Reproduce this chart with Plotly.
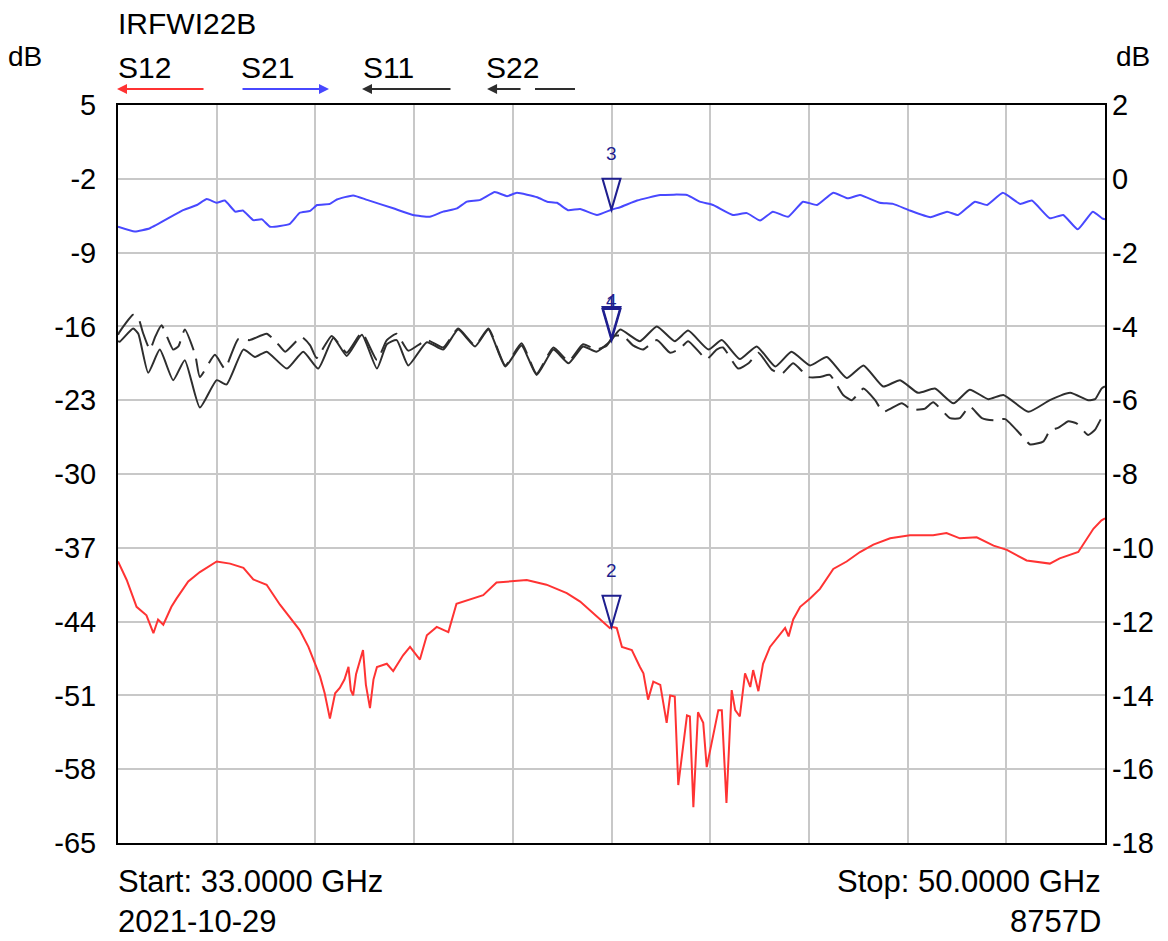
import numpy as np
import plotly.graph_objects as go

# ---------------- data ----------------
F_START, F_STOP = 33.0, 50.0
MARKER_FREQ = 41.5

LEFT_TICKS = [5, -2, -9, -16, -23, -30, -37, -44, -51, -58, -65]
RIGHT_TICKS = [2, 0, -2, -4, -6, -8, -10, -12, -14, -16, -18]

# S21 (right axis, dB)
s21_f = [33.00, 33.29, 33.55, 34.12, 34.36, 34.53, 34.70, 34.84, 35.02, 35.15, 35.33, 35.48,
         35.62, 35.96, 36.13, 36.31, 36.43, 36.65, 36.77, 37.05, 37.29, 37.74, 38.08, 38.37,
         38.60, 38.84, 39.01, 39.24, 39.49, 39.70, 39.87, 40.22, 40.39, 40.56, 40.75, 40.96,
         41.25, 41.51, 41.65, 41.94, 42.34, 42.80, 43.02, 43.25, 43.59, 43.83, 44.06, 44.28,
         44.54, 44.80, 45.04, 45.32, 45.57, 45.78, 46.12, 46.35, 46.64, 46.99, 47.28, 47.47,
         47.76, 47.97, 48.24, 48.54, 48.74, 49.05, 49.28, 49.53, 49.79, 49.95, 50.00]
s21_v = [-1.30, -1.43, -1.34, -0.85, -0.71, -0.55, -0.65, -0.59, -0.89, -0.86, -1.12, -1.10,
         -1.30, -1.22, -0.92, -0.87, -0.71, -0.68, -0.56, -0.45, -0.57, -0.80, -0.98, -1.03,
         -0.89, -0.80, -0.62, -0.57, -0.36, -0.47, -0.38, -0.50, -0.62, -0.65, -0.85, -0.82,
         -0.98, -0.83, -0.77, -0.59, -0.44, -0.44, -0.62, -0.71, -0.98, -0.93, -1.13, -0.89,
         -1.03, -0.62, -0.71, -0.38, -0.53, -0.44, -0.65, -0.68, -0.86, -1.04, -0.89, -0.98,
         -0.62, -0.71, -0.38, -0.68, -0.59, -1.07, -0.98, -1.37, -0.89, -1.07, -1.10]

# S11 (left axis, dB) - solid
s11_f = [33.00, 33.03, 33.26, 33.35, 33.52, 33.72, 33.95, 34.15, 34.41, 34.70, 34.87, 35.16,
         35.36, 35.56, 35.91, 36.19, 36.45, 36.71, 36.94, 37.20, 37.46, 37.63, 37.80, 38.00,
         38.32, 38.60, 38.86, 39.15, 39.38, 39.67, 39.95, 40.21, 40.50, 40.76, 41.01, 41.24,
         41.47, 41.50, 41.65, 41.99, 42.28, 42.59, 42.82, 43.17, 43.40, 43.71, 44.00, 44.32,
         44.60, 44.92, 45.21, 45.55, 45.84, 46.18, 46.47, 46.78, 47.07, 47.39, 47.67, 47.99,
         48.25, 48.68, 49.05, 49.40, 49.71, 49.83, 49.94, 50.00]
s11_v = [-17.4, -17.45, -16.2, -16.7, -20.4, -18.2, -21.1, -19.2, -23.7, -21.1, -21.5, -18.2,
         -18.9, -18.4, -20.0, -18.4, -20.0, -17.1, -18.8, -16.8, -20.0, -17.7, -17.3, -19.7,
         -17.5, -18.2, -16.3, -17.9, -16.3, -19.8, -17.8, -20.6, -18.2, -19.5, -17.9, -18.4,
         -17.45, -17.3, -16.3, -17.4, -16.0, -17.4, -16.4, -18.2, -17.3, -19.1, -17.9, -19.8,
         -18.4, -19.7, -18.9, -20.9, -19.7, -21.7, -21.1, -22.3, -21.9, -23.3, -22.0, -22.9,
         -22.5, -24.1, -23.0, -22.3, -23.0, -22.9, -21.9, -21.7]

# S22 (left axis, dB) - dashed
s22_f = [33.00, 33.03, 33.26, 33.35, 33.43, 33.55, 33.64, 33.75, 33.95, 34.04, 34.15, 34.33,
         34.41, 34.67, 34.84, 35.07, 35.27, 35.56, 35.73, 35.88, 36.16, 36.31, 36.42, 36.68,
         36.94, 37.20, 37.46, 37.63, 37.80, 38.00, 38.32, 38.60, 38.86, 39.15, 39.38, 39.67,
         39.95, 40.21, 40.50, 40.76, 41.01, 41.24, 41.42, 41.50, 41.53, 41.70, 41.87, 42.04,
         42.28, 42.51, 42.68, 42.82, 43.14, 43.31, 43.42, 43.68, 43.86, 44.03, 44.26, 44.43,
         44.63, 44.89, 45.09, 45.26, 45.49, 45.64, 45.84, 46.04, 46.18, 46.50, 46.67, 46.90,
         47.04, 47.33, 47.50, 47.67, 47.88, 48.08, 48.28, 48.57, 48.71, 48.94, 49.05, 49.20,
         49.37, 49.51, 49.71, 49.83, 49.94, 50.00]
s22_v = [-16.8, -16.5, -14.9, -15.2, -16.6, -18.2, -17.0, -15.9, -18.2, -17.9, -16.3, -18.7,
         -20.8, -18.7, -20.0, -17.2, -17.3, -16.7, -17.5, -18.4, -17.0, -17.8, -19.0, -16.9,
         -18.5, -16.6, -19.2, -17.3, -16.7, -18.3, -17.3, -18.0, -16.2, -17.8, -16.2, -19.7,
         -17.6, -20.5, -18.0, -19.3, -17.7, -18.2, -17.8, -17.1, -16.9, -16.9, -17.8, -18.2,
         -17.3, -18.5, -18.1, -17.4, -19.1, -18.2, -18.0, -20.0, -19.5, -18.5, -20.1, -20.5,
         -19.5, -20.8, -20.8, -20.6, -22.5, -23.0, -21.9, -23.0, -24.1, -23.3, -23.9, -23.8,
         -23.2, -24.7, -24.7, -23.6, -24.7, -24.9, -24.8, -26.4, -27.2, -26.9, -25.9, -25.6,
         -25.0, -25.2, -26.3, -25.8, -24.7, -24.5]

# S12 (left axis, dB)
s12_f = [33.00, 33.15, 33.32, 33.49, 33.61, 33.69, 33.78, 33.92, 34.01, 34.21, 34.41, 34.70,
         34.93, 35.16, 35.33, 35.56, 35.79, 35.99, 36.13, 36.28, 36.39, 36.48, 36.56, 36.65,
         36.74, 36.82, 36.90, 36.97, 37.01, 37.05, 37.10, 37.14, 37.22, 37.27, 37.34, 37.40,
         37.46, 37.63, 37.74, 37.91, 38.03, 38.20, 38.32, 38.49, 38.69, 38.83, 39.01, 39.29,
         39.52, 39.81, 40.04, 40.38, 40.73, 40.96, 41.30, 41.47, 41.50, 41.59, 41.68, 41.85,
         41.99, 42.05, 42.13, 42.22, 42.34, 42.45, 42.51, 42.59, 42.65, 42.71, 42.80, 42.85,
         42.91, 42.99, 43.08, 43.14, 43.20, 43.28, 43.34, 43.40, 43.48, 43.57, 43.63, 43.71,
         43.80, 43.89, 43.94, 44.03, 44.11, 44.23, 44.35, 44.49, 44.55, 44.63, 44.75, 44.92,
         45.09, 45.32, 45.55, 45.78, 46.01, 46.30, 46.64, 47.04, 47.27, 47.50, 47.79, 48.08,
         48.31, 48.65, 49.05, 49.22, 49.54, 49.80, 49.94, 50.00]
s12_v = [-38.3, -40.05, -42.6, -43.4, -45.1, -43.8, -44.3, -42.6, -41.8, -40.2, -39.3, -38.3,
         -38.5, -38.9, -40.0, -40.5, -42.4, -43.8, -44.8, -46.4, -48.0, -49.2, -50.8, -53.2,
         -50.8, -50.3, -49.5, -48.3, -50.5, -51.0, -49.0, -48.3, -46.7, -50.0, -52.2, -49.5,
         -48.3, -48.0, -48.7, -47.2, -46.4, -47.6, -45.3, -44.5, -45.0, -42.3, -42.0, -41.5,
         -40.3, -40.2, -40.05, -40.5, -41.3, -42.1, -43.8, -44.6, -44.5, -44.6, -46.4, -46.7,
         -48.3, -48.9, -51.4, -49.7, -50.0, -53.6, -51.0, -51.1, -59.5, -56.8, -52.9, -53.0,
         -61.6, -52.6, -53.6, -57.8, -56.2, -54.3, -52.4, -52.4, -61.2, -50.5, -52.4, -53.0,
         -48.9, -50.2, -48.6, -50.6, -48.0, -46.4, -45.6, -44.6, -45.4, -43.8, -42.6, -41.8,
         -40.9, -39.0, -38.3, -37.4, -36.7, -36.1, -35.8, -35.8, -35.6, -36.1, -36.0, -36.8,
         -37.2, -38.2, -38.5, -38.0, -37.4, -35.2, -34.4, -34.2]

# ---------------- style ----------------
RED = "#ff3333"
BLUE = "#4848ff"
BLACK = "#2e2e2e"
NAVY = "#1f1f8f"
GRID = "#c8c8c8"
FONT = "Liberation Sans, Arial, sans-serif"
NARROW = "Liberation Sans Narrow, Liberation Sans, Arial, sans-serif"
TEXT_SIZE = 30
TICK_SIZE = 29

fig = go.Figure()
fig.add_trace(go.Scatter(x=s12_f, y=s12_v, mode="lines", line=dict(color=RED, width=2), yaxis="y"))
fig.add_trace(go.Scatter(x=s11_f, y=s11_v, mode="lines",
                         line=dict(color=BLACK, width=2, shape="spline", smoothing=0.5), yaxis="y"))
fig.add_trace(go.Scatter(x=s22_f, y=s22_v, mode="lines",
                         line=dict(color=BLACK, width=2, dash="26px,9px", shape="spline", smoothing=0.5),
                         yaxis="y"))
fig.add_trace(go.Scatter(x=s21_f, y=s21_v, mode="lines",
                         line=dict(color=BLUE, width=2, shape="spline", smoothing=0.4), yaxis="y2"))

# ---------------- markers ----------------
markers = [
    ("3", np.interp(MARKER_FREQ, s21_f, s21_v), "y2", 56),
    ("2", np.interp(MARKER_FREQ, s12_f, s12_v), "y", 56),
    ("1", np.interp(MARKER_FREQ, s11_f, s11_v), "y", 38),
    ("4", np.interp(MARKER_FREQ, s22_f, s22_v), "y", 38),
]
shapes = []
annotations = []
for label, val, yref, shift in markers:
    shapes.append(dict(type="path", xref="x", yref=yref, xsizemode="pixel", ysizemode="pixel",
                       xanchor=MARKER_FREQ, yanchor=val,
                       path="M 0,0 L -9,31 L 9,31 Z",
                       line=dict(color=NAVY, width=2), fillcolor="rgba(0,0,0,0)"))
    annotations.append(dict(x=MARKER_FREQ, y=val, xref="x", yref=yref, text=label, showarrow=False,
                            yshift=shift, font=dict(family=NARROW, size=19, color=NAVY)))

# ---------------- header / legend ----------------
def ptext(x, y, text, xanchor="left", size=TEXT_SIZE):
    annotations.append(dict(x=x, y=y, xref="paper", yref="paper", text=text, showarrow=False,
                            xanchor=xanchor, yanchor="middle", xshift=-2,
                            font=dict(family=FONT, size=size, color="black")))

ptext(0.0, 1.110, "IRFWI22B", size=30)
ptext(-0.111, 1.066, "dB", size=28)
ptext(1.050, 1.066, "dB", xanchor="right", size=28)
ptext(0.0, 1.051, "S12")
ptext(0.1246, 1.051, "S21")
ptext(0.2482, 1.051, "S11")
ptext(0.3729, 1.051, "S22")
ptext(0.0, -0.0515, "Start: 33.0000 GHz", size=31)
ptext(1.0, -0.0515, "Stop: 50.0000 GHz", xanchor="right", size=31)
ptext(0.0, -0.1057, "2021-10-29", size=31)
ptext(1.0, -0.1057, "8757D", xanchor="right", size=31)

def arrow(xtip, ax, color):
    annotations.append(dict(x=xtip, y=1.0217, xref="paper", yref="paper", ax=ax, ay=0,
                            axref="pixel", ayref="pixel", text="", showarrow=True,
                            arrowhead=2, arrowsize=1.0, arrowwidth=2, arrowcolor=color))

arrow(-0.001, 88, RED)
arrow(0.2138, -88, BLUE)
arrow(0.2472, 90, BLACK)
arrow(0.3739, 35, BLACK)
shapes.append(dict(type="line", xref="paper", yref="paper", x0=0.4225, x1=0.4630,
                   y0=1.0217, y1=1.0217, line=dict(color=BLACK, width=2)))

# ---------------- layout ----------------
fig.update_layout(
    width=1160, height=933,
    margin=dict(l=110, r=63, t=97, b=98),
    paper_bgcolor="white", plot_bgcolor="white",
    showlegend=False,
    font=dict(family=FONT, size=TICK_SIZE, color="black"),
    xaxis=dict(range=[F_START, F_STOP], tickvals=list(np.linspace(F_START, F_STOP, 11)),
               showticklabels=False, ticks="", showgrid=True, gridcolor=GRID, gridwidth=2,
               zeroline=False, showline=True, linecolor="black", linewidth=2, mirror=True),
    yaxis=dict(range=[-65, 5], tickvals=LEFT_TICKS, ticktext=[str(t) for t in LEFT_TICKS],
               ticks="", showgrid=True, gridcolor=GRID, gridwidth=2, zeroline=False,
               showline=True, linecolor="black", linewidth=2, mirror=True,
               ticklabelstandoff=14, tickfont=dict(family=FONT, size=TICK_SIZE)),
    yaxis2=dict(range=[-18, 2], tickvals=RIGHT_TICKS, ticktext=[str(t) for t in RIGHT_TICKS],
                overlaying="y", side="right", ticks="", showgrid=False, zeroline=False,
                showline=False, ticklabelstandoff=6, tickfont=dict(family=FONT, size=TICK_SIZE)),
    shapes=shapes,
    annotations=annotations,
)

fig.write_html("out.html")
